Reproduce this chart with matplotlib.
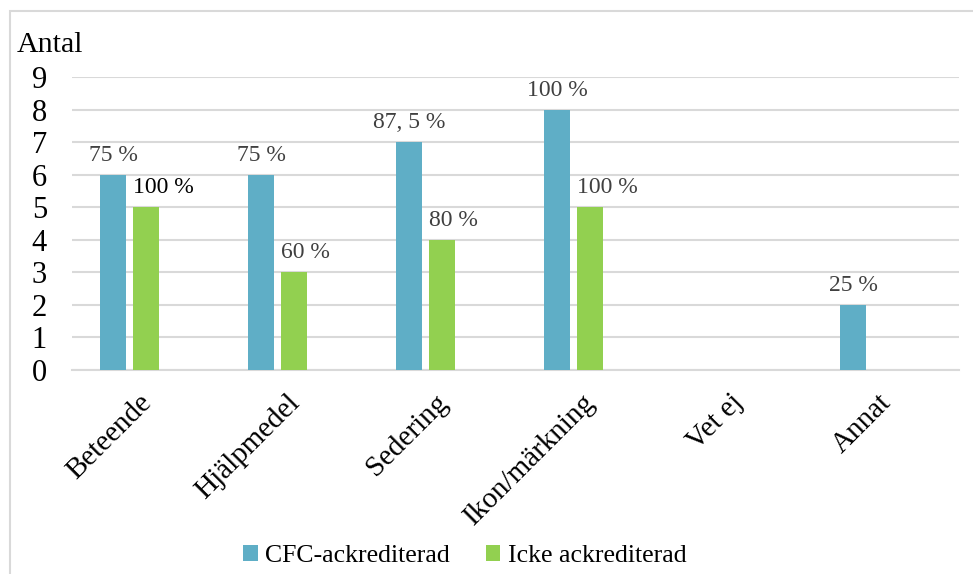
import numpy as np
import matplotlib
matplotlib.use('Agg')
import matplotlib.pyplot as plt
import matplotlib.transforms as mtransforms
from matplotlib.patches import Rectangle

plt.rcParams['font.family'] = ['Liberation Serif', 'DejaVu Serif']

kategorijos = ['Beteende', 'Hjälpmedel', 'Sedering', 'Ikon/märkning', 'Vet ej', 'Annat']
cfc = [6, 6, 7, 8, 0, 2]
icke = [5, 3, 4, 5, 0, 0]
cfc_labels = ['75 %', '75 %', '87, 5 %', '100 %', '', '25 %']
icke_labels = ['100 %', '60 %', '80 %', '100 %', '', '']
serijos = ['CFC-ackrediterad', 'Icke ackrediterad']

spalva_cfc = '#5FAEC6'
spalva_icke = '#92D050'

fig = plt.figure(figsize=(9.73, 5.74), dpi=100)
ax = fig.add_axes([72 / 973, 204 / 574, 887 / 973, 293 / 574])

x = np.arange(len(kategorijos))
w = 0.172
off = 0.1115
b1 = ax.bar(x - off, cfc, w, color=spalva_cfc, zorder=3, label=serijos[0])
b2 = ax.bar(x + off, icke, w, color=spalva_icke, zorder=3, label=serijos[1])

ax.set_xlim(-0.389, 5.605)
ax.set_ylim(0, 9)
ax.set_yticks(range(10))
ax.yaxis.grid(True, color='#D9D9D9', linewidth=1.5, zorder=0)
ax.set_axisbelow(True)
for s in ['top', 'right', 'left']:
    ax.spines[s].set_visible(False)
ax.spines['bottom'].set_color('#D9D9D9')
ax.spines['bottom'].set_linewidth(1.5)
ax.tick_params(axis='both', length=0, labelsize=22)
ax.tick_params(axis='y', pad=18)

ax.set_xticks(x)
ax.set_xticklabels(kategorijos, rotation=45, ha='right', va='center',
                   rotation_mode='anchor', fontsize=21)
shift = mtransforms.ScaledTranslation(18 / 100, -24 / 100, fig.dpi_scale_trans)
for lbl in ax.get_xticklabels():
    lbl.set_transform(lbl.get_transform() + shift)

# duomenu etiketes
for i, (v, t) in enumerate(zip(cfc, cfc_labels)):
    if t:
        ax.annotate(t, (x[i] - off, v), xytext=(0, 14), textcoords='offset points',
                    ha='center', va='center', fontsize=17, color='#404040')
for i, (v, t) in enumerate(zip(icke, icke_labels)):
    if t:
        spalva = 'black' if i == 0 else '#404040'
        ax.annotate(t, (x[i] + off - w / 2, v), xytext=(0, 14), textcoords='offset points',
                    ha='left', va='center', fontsize=17, color=spalva)

fig.text(17 / 973, 1 - 45 / 574, 'Antal', fontsize=21.5, ha='left', va='center')

fig.legend(handles=[b1, b2], labels=serijos, loc='center', ncol=2,
           bbox_to_anchor=(465 / 973, 18 / 574), frameon=False, fontsize=18.5,
           handlelength=0.55, handleheight=0.55, handletextpad=0.3,
           columnspacing=1.4)

# remelis aplink
fig.patches.append(Rectangle((10 / 973, -0.05), 1.1, 1 - 11 / 574 + 0.05,
                             transform=fig.transFigure, fill=False,
                             edgecolor='#D9D9D9', linewidth=1.5))

fig.savefig('out.png', dpi=100)
